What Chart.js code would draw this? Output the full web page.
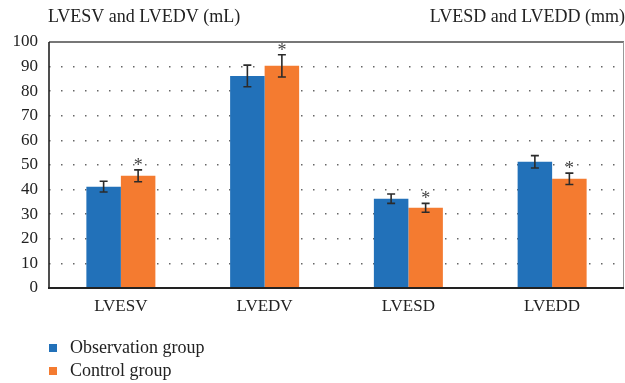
<!DOCTYPE html>
<html>
<head>
<meta charset="utf-8">
<script src="https://cdn.jsdelivr.net/npm/chart.js@4.4.1/dist/chart.umd.min.js"></script>
<style>
  html, body { margin: 0; padding: 0; background: #fff; }
  #wrap { position: relative; width: 625px; height: 383px; }
  canvas { display: block; }
</style>
</head>
<body>
<div id="wrap"><canvas id="c" width="625" height="383"></canvas></div>
<script>
// Echocardiographic indices by group
const categories = ['LVESV', 'LVEDV', 'LVESD', 'LVEDD'];
const seriesNames = ['Observation group', 'Control group'];
const observationMeans = [41.2, 86.2, 36.3, 51.3];
const observationSD = [2.2, 4.4, 1.9, 2.5];
const controlMeans = [45.6, 90.3, 32.6, 44.4];
const controlSD = [2.4, 4.5, 1.8, 2.3];
const significant = [true, true, true, true]; // control vs observation, P < 0.05
const yTicks = [0, 10, 20, 30, 40, 50, 60, 70, 80, 90, 100];
const leftUnitTitle = 'LVESV and LVEDV (mL)';
const rightUnitTitle = 'LVESD and LVEDD (mm)';

const SERIF = '"Liberation Serif", "DejaVu Serif", serif';
const BLUE = '#2271b9';
const ORANGE = '#f47b30';

// Error bars, significance marks, frame, unit titles and the stacked legend
const decorations = {
  id: 'decorations',
  afterDatasetsDraw(chart) {
    const ctx = chart.ctx;
    const y = chart.scales.y;
    const sds = [observationSD, controlSD];
    ctx.save();
    chart.data.datasets.forEach((ds, di) => {
      const meta = chart.getDatasetMeta(di);
      meta.data.forEach((bar, i) => {
        const v = ds.data[i];
        const top = y.getPixelForValue(v + sds[di][i]);
        const bot = y.getPixelForValue(v - sds[di][i]);
        const x = bar.x;
        ctx.strokeStyle = '#2b2b2b';
        ctx.lineWidth = 1.6;
        ctx.beginPath();
        ctx.moveTo(x, top); ctx.lineTo(x, bot);
        ctx.moveTo(x - 4, top); ctx.lineTo(x + 4, top);
        ctx.moveTo(x - 4, bot); ctx.lineTo(x + 4, bot);
        ctx.stroke();
        if (di === 1 && significant[i]) {
          ctx.fillStyle = '#444';
          ctx.font = '18px ' + SERIF;
          ctx.textAlign = 'center';
          ctx.textBaseline = 'middle';
          ctx.fillText('*', x, top - 4);
        }
      });
    });
    ctx.restore();
  },
  afterDraw(chart) {
    const ctx = chart.ctx;
    const a = chart.chartArea;
    ctx.save();
    // frame
    ctx.strokeStyle = '#4a4a4a';
    ctx.lineWidth = 1.5;
    ctx.beginPath();
    ctx.moveTo(a.left, a.top); ctx.lineTo(a.right, a.top);
    ctx.stroke();
    ctx.strokeStyle = '#999';
    ctx.lineWidth = 1;
    ctx.beginPath();
    ctx.moveTo(a.right - 0.5, a.top); ctx.lineTo(a.right - 0.5, a.bottom);
    ctx.stroke();
    ctx.strokeStyle = '#222';
    ctx.lineWidth = 1.6;
    ctx.beginPath();
    ctx.moveTo(a.left, a.top); ctx.lineTo(a.left, a.bottom);
    ctx.stroke();
    ctx.lineWidth = 2;
    ctx.beginPath();
    ctx.moveTo(a.left - 1, a.bottom); ctx.lineTo(a.right, a.bottom);
    ctx.stroke();
    // unit titles
    ctx.fillStyle = '#222';
    ctx.font = '18px ' + SERIF;
    ctx.textBaseline = 'middle';
    ctx.textAlign = 'left';
    ctx.fillText(leftUnitTitle, 48, 17);
    ctx.textAlign = 'right';
    ctx.fillText(rightUnitTitle, 625, 17);
    // legend
    const colors = [BLUE, ORANGE];
    seriesNames.forEach((name, i) => {
      const cy = 348 + i * 23;
      ctx.fillStyle = colors[i];
      ctx.fillRect(49, cy - 4, 8, 8);
      ctx.fillStyle = '#222';
      ctx.textAlign = 'left';
      ctx.fillText(name, 70, cy);
    });
    ctx.restore();
  }
};

new Chart(document.getElementById('c'), {
  type: 'bar',
  data: {
    labels: categories,
    datasets: [
      { label: seriesNames[0], data: observationMeans, backgroundColor: BLUE },
      { label: seriesNames[1], data: controlMeans, backgroundColor: ORANGE }
    ]
  },
  options: {
    responsive: false,
    animation: false,
    devicePixelRatio: 1,
    layout: { padding: { top: 42, right: 1, bottom: 0, left: 0 } },
    datasets: { bar: { categoryPercentage: 0.48, barPercentage: 1 } },
    plugins: { legend: { display: false }, tooltip: { enabled: false } },
    scales: {
      x: {
        grid: { display: false, drawTicks: false },
        border: { display: false },
        ticks: { color: '#222', font: { family: SERIF, size: 17 }, padding: 8 },
        afterFit(s) { s.height = 95; }
      },
      y: {
        min: 0, max: 100,
        afterBuildTicks(s) { s.ticks = yTicks.map(v => ({ value: v })); },
        grid: {
          drawTicks: false,
          color: c => (c.tick && (c.tick.value === 0 || c.tick.value === 100)) ? 'rgba(0,0,0,0)' : '#666',
          lineWidth: 1.5
        },
        border: { display: false, dash: [1.5, 10.5] },
        ticks: { color: '#222', font: { family: SERIF, size: 17 }, padding: 11 },
        afterFit(s) { s.width = 49; }
      }
    }
  },
  plugins: [decorations]
});
</script>
</body>
</html>
